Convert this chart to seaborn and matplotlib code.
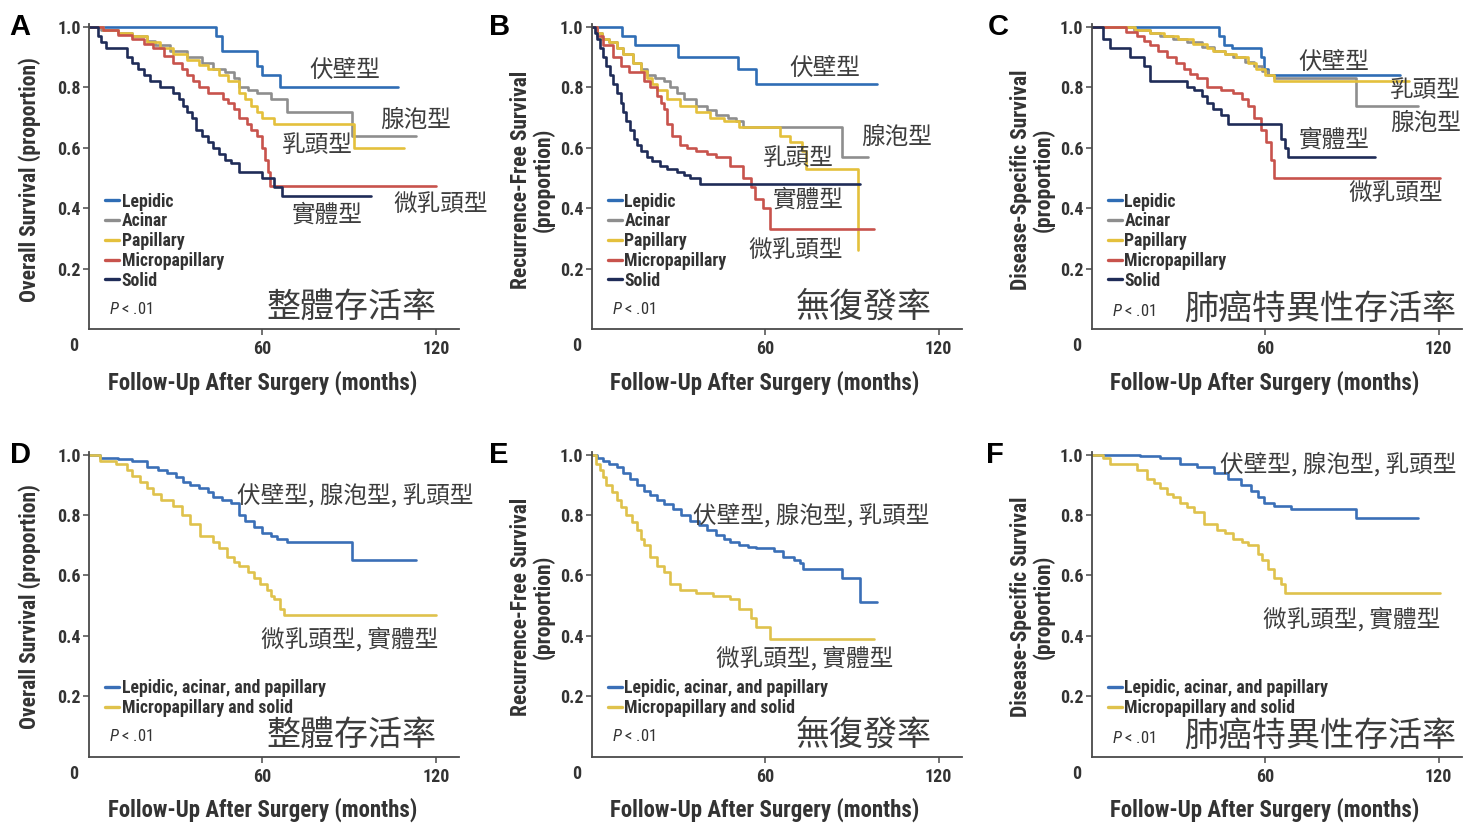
import matplotlib
matplotlib.use("Agg")
import matplotlib.pyplot as plt
import seaborn as sns
import pandas as pd
from matplotlib import font_manager as fm
from matplotlib.lines import Line2D

# ---------------- data (Kaplan-Meier step points: time in months, survival proportion) -------------
top_groups = ["Lepidic", "Acinar", "Papillary", "Micropapillary", "Solid"]
bottom_groups = ["Lepidic, acinar, and papillary", "Micropapillary and solid"]

# Panel A - Overall survival
A_lep_t = [0, 44, 46, 58, 60, 66, 107]
A_lep_s = [1.0, 0.97, 0.92, 0.87, 0.84, 0.80, 0.80]
A_aci_t = [0, 4, 10, 15, 20, 23, 28, 34, 39, 43, 47, 50, 52, 55, 58, 63, 68.5, 91, 113]
A_aci_s = [1.0, 0.99, 0.98, 0.97, 0.955, 0.94, 0.92, 0.90, 0.88, 0.86, 0.85, 0.83, 0.80, 0.79, 0.78, 0.76, 0.72, 0.64, 0.64]
A_pap_t = [0, 5, 10, 15, 20, 24.5, 29, 34, 38, 41, 45, 48, 52, 54, 56, 58, 60, 64, 91.7, 109]
A_pap_s = [1.0, 0.99, 0.98, 0.97, 0.95, 0.93, 0.91, 0.89, 0.875, 0.86, 0.84, 0.82, 0.78, 0.76, 0.74, 0.72, 0.70, 0.68, 0.60, 0.60]
A_mic_t = [0, 5, 10, 15, 19, 22, 26, 29, 32, 34, 36, 38, 41, 46.5, 48, 50, 52, 54.6, 56, 58, 60, 61, 62, 62.7, 120]
A_mic_s = [1.0, 0.99, 0.975, 0.96, 0.945, 0.93, 0.905, 0.88, 0.86, 0.84, 0.82, 0.80, 0.78, 0.76, 0.75, 0.73, 0.70, 0.68, 0.66, 0.64, 0.60, 0.56, 0.52, 0.475, 0.475]
A_sol_t = [0, 3, 4, 6, 12, 13, 15, 17, 19, 21, 24.5, 29, 31, 32.6, 34, 35.5, 37, 39, 41, 43, 45, 47, 49, 52, 57, 60, 64, 66.8, 97.5]
A_sol_s = [1.0, 0.97, 0.95, 0.93, 0.93, 0.90, 0.88, 0.86, 0.84, 0.82, 0.80, 0.78, 0.76, 0.74, 0.72, 0.70, 0.66, 0.64, 0.62, 0.60, 0.58, 0.56, 0.55, 0.52, 0.52, 0.50, 0.47, 0.44, 0.44]

# Panel B - Recurrence-free survival
B_lep_t = [0, 10.4, 15, 30, 50.7, 57, 98.6]
B_lep_s = [1.0, 0.97, 0.94, 0.90, 0.86, 0.81, 0.81]
B_aci_t = [0, 2, 3.5, 6, 8.7, 11, 14.4, 17, 19, 22, 25, 27, 29.4, 32, 36, 40, 43, 47, 50, 52.5, 86.5, 95.7]
B_aci_s = [1.0, 0.98, 0.96, 0.95, 0.93, 0.91, 0.88, 0.86, 0.84, 0.83, 0.82, 0.80, 0.78, 0.76, 0.74, 0.725, 0.71, 0.70, 0.69, 0.67, 0.57, 0.57]
B_pap_t = [0, 2, 3.5, 6, 8.7, 11, 14.4, 17, 19, 21, 22.5, 26, 30.6, 36, 41, 45.6, 51, 65, 68.6, 72.7, 74, 92]
B_pap_s = [1.0, 0.98, 0.96, 0.95, 0.93, 0.91, 0.88, 0.855, 0.83, 0.81, 0.79, 0.76, 0.74, 0.72, 0.70, 0.69, 0.67, 0.64, 0.62, 0.59, 0.53, 0.26]
B_mic_t = [0, 2, 4, 7.5, 10, 13, 18, 20, 22.5, 24, 25, 26, 27.7, 30.6, 33, 36, 40, 43, 48, 52.5, 55, 56.5, 59.4, 61.7, 97.5]
B_mic_s = [1.0, 0.97, 0.94, 0.90, 0.87, 0.85, 0.82, 0.80, 0.77, 0.75, 0.73, 0.68, 0.64, 0.61, 0.60, 0.59, 0.58, 0.57, 0.54, 0.50, 0.47, 0.43, 0.40, 0.33, 0.33]
B_sol_t = [0, 1, 1.7, 3, 4, 5, 6.3, 7.5, 8.7, 10, 11, 12, 13.3, 14.5, 15.6, 17, 19, 21, 23.6, 26, 29.4, 32, 34, 37.5, 92.8]
B_sol_s = [1.0, 0.98, 0.96, 0.93, 0.90, 0.87, 0.84, 0.81, 0.78, 0.75, 0.72, 0.69, 0.66, 0.63, 0.61, 0.59, 0.57, 0.555, 0.54, 0.53, 0.52, 0.51, 0.50, 0.48, 0.48]

# Panel C - Disease-specific survival
C_lep_t = [0, 44, 45.8, 48.7, 58.5, 59.7, 61, 106.7]
C_lep_s = [1.0, 0.97, 0.94, 0.93, 0.90, 0.86, 0.84, 0.84]
C_aci_t = [0, 14.5, 20, 23.8, 28, 33, 38, 42.3, 46, 49, 53, 56, 59, 61, 63, 91.6, 113]
C_aci_s = [1.0, 0.99, 0.98, 0.97, 0.96, 0.95, 0.935, 0.92, 0.91, 0.90, 0.885, 0.87, 0.855, 0.84, 0.83, 0.74, 0.74]
C_pap_t = [0, 15, 20, 25, 30, 35, 40, 42, 46, 50, 54, 57, 60, 63, 109.6]
C_pap_s = [1.0, 0.99, 0.98, 0.97, 0.96, 0.945, 0.93, 0.92, 0.91, 0.90, 0.88, 0.86, 0.84, 0.82, 0.82]
C_mic_t = [0, 12, 15.6, 18, 20, 23, 26, 29, 32, 34, 36.5, 40, 44.6, 49, 52, 54, 56, 58.5, 60.3, 62, 63, 120.6]
C_mic_s = [1.0, 0.985, 0.97, 0.955, 0.94, 0.92, 0.90, 0.88, 0.86, 0.845, 0.83, 0.80, 0.79, 0.78, 0.76, 0.74, 0.70, 0.66, 0.62, 0.56, 0.50, 0.50]
C_sol_t = [0, 4, 6.4, 11, 13.3, 18, 20, 30.7, 33, 35.4, 38, 40, 42, 44.6, 47, 64.3, 65.5, 67, 67.8, 98]
C_sol_s = [1.0, 0.96, 0.93, 0.93, 0.90, 0.87, 0.82, 0.82, 0.80, 0.79, 0.77, 0.75, 0.73, 0.71, 0.68, 0.68, 0.63, 0.60, 0.57, 0.57]

# Panel D - Overall survival, grouped
D_hi_t = [0, 3.7, 10, 15, 20, 24, 27, 30, 32.6, 35, 38, 41, 43, 46, 49, 52, 54, 57, 60, 63, 65, 68.5, 91, 113]
D_hi_s = [1.0, 0.99, 0.985, 0.98, 0.96, 0.95, 0.94, 0.925, 0.91, 0.90, 0.89, 0.875, 0.86, 0.85, 0.84, 0.80, 0.78, 0.76, 0.74, 0.73, 0.72, 0.71, 0.65, 0.65]
D_lo_t = [0, 3.7, 9.5, 13, 15, 17.6, 20, 22, 25, 29, 32, 35, 38.4, 43, 45, 47.7, 50, 52, 55, 57, 59, 61.6, 63, 64, 66, 67.4, 120]
D_lo_s = [1.0, 0.98, 0.97, 0.95, 0.93, 0.91, 0.89, 0.87, 0.85, 0.83, 0.80, 0.77, 0.73, 0.71, 0.69, 0.66, 0.645, 0.63, 0.61, 0.59, 0.57, 0.55, 0.53, 0.52, 0.49, 0.47, 0.47]

# Panel E - Recurrence-free survival, grouped
E_hi_t = [0, 2, 4, 6, 8.7, 11, 13.3, 15.6, 18, 20, 22.5, 25, 28, 31, 34, 37, 40, 43, 45.6, 48, 51, 54, 57, 63, 66.3, 70, 72, 73, 86.5, 92.8, 98.6]
E_hi_s = [1.0, 0.99, 0.98, 0.97, 0.96, 0.94, 0.92, 0.90, 0.88, 0.865, 0.85, 0.835, 0.82, 0.80, 0.78, 0.765, 0.75, 0.735, 0.72, 0.71, 0.70, 0.695, 0.69, 0.68, 0.66, 0.65, 0.64, 0.62, 0.59, 0.51, 0.51]
E_lo_t = [0, 1.5, 3, 4, 5, 7, 8.7, 10, 12, 14, 15.6, 17, 18, 20, 22.5, 25, 27, 30.6, 36, 42, 48, 51, 55, 57, 61.7, 97.5]
E_lo_s = [1.0, 0.97, 0.95, 0.925, 0.90, 0.875, 0.85, 0.825, 0.80, 0.775, 0.75, 0.72, 0.70, 0.66, 0.63, 0.61, 0.57, 0.55, 0.54, 0.53, 0.52, 0.49, 0.46, 0.43, 0.39, 0.39]

# Panel F - Disease-specific survival, grouped
F_hi_t = [0, 16.8, 23.8, 30.7, 36.5, 42.3, 47, 51.6, 55, 57.4, 59.7, 63, 69, 91.6, 113]
F_hi_s = [1.0, 0.995, 0.99, 0.97, 0.96, 0.94, 0.92, 0.90, 0.88, 0.86, 0.84, 0.83, 0.82, 0.79, 0.79]
F_lo_t = [0, 4, 6.4, 12, 15.6, 19, 21.5, 23.8, 26, 28, 30.7, 33, 35.4, 39, 43.5, 46, 49, 52, 54, 57.4, 59, 61, 63, 65.5, 67, 120.6]
F_lo_s = [1.0, 0.99, 0.97, 0.97, 0.95, 0.92, 0.905, 0.89, 0.87, 0.86, 0.84, 0.825, 0.81, 0.77, 0.75, 0.74, 0.72, 0.71, 0.70, 0.67, 0.65, 0.62, 0.59, 0.57, 0.54, 0.54]

y_ticks = [0.2, 0.4, 0.6, 0.8, 1.0]
y_tick_labels = ["0.2", "0.4", "0.6", "0.8", "1.0"]
x_ticks = [60, 120]
x_tick_labels = ["60", "120"]
x_title = "Follow-Up After Surgery (months)"
y_titles = ["Overall Survival (proportion)",
            "Recurrence-Free Survival\n(proportion)",
            "Disease-Specific Survival\n(proportion)"]
panel_titles = ["整體存活率", "無復發率", "肺癌特異性存活率"]
p_text = r"$P$ < .01"

# ---------------- style ----------------
sns.set_style("ticks")

# look for a narrow / condensed latin face; fall back to Liberation Sans
pref = ["Liberation Sans Narrow", "Roboto Condensed", "Open Sans Condensed", "Noto Sans Condensed",
        "DejaVu Sans Condensed", "Noto Sans", "Open Sans", "Roboto", "DejaVu Sans"]
cond = {}
for f in fm.fontManager.ttflist:
    st = str(f.stretch)
    if "Narrow" in f.name or "Condensed" in f.name or "condensed" in st:
        cond.setdefault(f.name, st if "condensed" in st else "normal")
LAT, STRETCH, SC = None, "normal", 1.0
for n in pref:
    if n in cond:
        LAT, STRETCH = n, cond[n]
        break
if LAT is None:
    LAT, STRETCH, SC = "Liberation Sans", "normal", 0.86

CJK = "Noto Sans CJK TC"
plt.rcParams["font.family"] = [LAT, CJK]
plt.rcParams["font.stretch"] = STRETCH
plt.rcParams["mathtext.fontset"] = "custom"
plt.rcParams["mathtext.it"] = LAT + ":italic"
plt.rcParams["mathtext.rm"] = LAT

top_colors = ["#2f6db5", "#8e8e8e", "#e4c03c", "#c8534c", "#1f2c58"]
bottom_colors = ["#3a6fb7", "#dfc24c"]
TXT = "#3d3d3d"
AX = "#4a4a4a"
LBL = "#333333"

W, H = 1478, 827
fig = plt.figure(figsize=(W / 100, H / 100), dpi=100)
fig.patch.set_facecolor("white")


def px_axes(x0, y_bottom, w=370, h=305):
    return fig.add_axes([x0 / W, 1 - y_bottom / H, w / W, h / H])


def km_frame(groups, series):
    rows = []
    for g, (t, s) in zip(groups, series):
        for ti, si in zip(t, s):
            rows.append({"time": ti, "surv": si, "group": g})
    return pd.DataFrame(rows)


panels = [
    dict(letter="A", x0=89, yb=329, groups=top_groups, colors=top_colors, ytitle=y_titles[0],
         title=panel_titles[0], title_xy=(90.7, 0.072),
         series=[(A_lep_t, A_lep_s), (A_aci_t, A_aci_s), (A_pap_t, A_pap_s), (A_mic_t, A_mic_s), (A_sol_t, A_sol_s)],
         labels=[("伏壁型", 88.4, 0.856), ("腺泡型", 113, 0.69), ("乳頭型", 79, 0.608),
                 ("微乳頭型", 121.5, 0.412), ("實體型", 82.4, 0.376)],
         leg_y=0.452, letter_xy=(9, 35)),
    dict(letter="B", x0=591.7, yb=329, groups=top_groups, colors=top_colors, ytitle=y_titles[1],
         title=panel_titles[1], title_xy=(94, 0.072),
         series=[(B_lep_t, B_lep_s), (B_aci_t, B_aci_s), (B_pap_t, B_pap_s), (B_mic_t, B_mic_s), (B_sol_t, B_sol_s)],
         labels=[("伏壁型", 80.7, 0.862), ("腺泡型", 105.5, 0.635), ("乳頭型", 71.5, 0.564),
                 ("實體型", 75, 0.425), ("微乳頭型", 70.4, 0.26)],
         leg_y=0.452, letter_xy=(489, 35)),
    dict(letter="C", x0=1091.7, yb=329, groups=top_groups, colors=top_colors, ytitle=y_titles[2],
         title=panel_titles[2], title_xy=(79.2, 0.066),
         series=[(C_lep_t, C_lep_s), (C_aci_t, C_aci_s), (C_pap_t, C_pap_s), (C_mic_t, C_mic_s), (C_sol_t, C_sol_s)],
         labels=[("伏壁型", 83.8, 0.884), ("乳頭型", 115.4, 0.79), ("腺泡型", 115.4, 0.68),
                 ("實體型", 83.8, 0.624), ("微乳頭型", 105, 0.448)],
         leg_y=0.452, letter_xy=(988, 35)),
    dict(letter="D", x0=89, yb=756.5, groups=bottom_groups, colors=bottom_colors, ytitle=y_titles[0],
         title=panel_titles[0], title_xy=(90.7, 0.072),
         series=[(D_hi_t, D_hi_s), (D_lo_t, D_lo_s)],
         labels=[("伏壁型, 腺泡型, 乳頭型", 92, 0.864), ("微乳頭型, 實體型", 90.3, 0.387)],
         leg_y=0.256, letter_xy=(10, 463)),
    dict(letter="E", x0=591.7, yb=756.5, groups=bottom_groups, colors=bottom_colors, ytitle=y_titles[1],
         title=panel_titles[1], title_xy=(94, 0.072),
         series=[(E_hi_t, E_hi_s), (E_lo_t, E_lo_s)],
         labels=[("伏壁型, 腺泡型, 乳頭型", 76.1, 0.80), ("微乳頭型, 實體型", 73.8, 0.326)],
         leg_y=0.256, letter_xy=(489, 463)),
    dict(letter="F", x0=1091.7, yb=756.5, groups=bottom_groups, colors=bottom_colors, ytitle=y_titles[2],
         title=panel_titles[2], title_xy=(79.2, 0.066),
         series=[(F_hi_t, F_hi_s), (F_lo_t, F_lo_s)],
         labels=[("伏壁型, 腺泡型, 乳頭型", 85.4, 0.967), ("微乳頭型, 實體型", 90, 0.455)],
         leg_y=0.256, letter_xy=(986, 463)),
]

for p in panels:
    ax = px_axes(p["x0"], p["yb"])
    df = km_frame(p["groups"], p["series"])
    sns.lineplot(data=df, x="time", y="surv", hue="group", hue_order=p["groups"],
                 palette=p["colors"], drawstyle="steps-post", estimator=None, sort=False,
                 legend=False, lw=1.9, ax=ax)
    ax.set_xlim(0, 128)
    ax.set_ylim(0, 1.01)
    for side in ("top", "right"):
        ax.spines[side].set_visible(False)
    for side in ("left", "bottom"):
        ax.spines[side].set_color(AX)
        ax.spines[side].set_linewidth(1.3)
    ax.set_yticks(y_ticks)
    ax.set_yticklabels(y_tick_labels)
    ax.set_xticks(x_ticks)
    ax.set_xticklabels(x_tick_labels)
    ax.tick_params(axis="both", direction="out", length=4, width=1.1, color=AX,
                   labelsize=13 * SC, labelcolor=LBL)
    ax.tick_params(axis="y", pad=2)
    ax.tick_params(axis="x", pad=4)
    for lab in ax.get_xticklabels() + ax.get_yticklabels():
        lab.set_fontweight("bold")
    ax.annotate("0", xy=(0, 0), xycoords="data", xytext=(-11, -12.5), textcoords="offset points",
                ha="center", va="center", fontsize=13 * SC, fontweight="bold", color=LBL)
    ax.set_xlabel(x_title, fontsize=16.5 * SC, fontweight="bold", color=LBL)
    ax.xaxis.label.set_va("center")
    ax.xaxis.set_label_coords(0.468, -0.176)
    ax.set_ylabel(p["ytitle"], fontsize=15.5 * SC, fontweight="bold", color=LBL, linespacing=1.0)
    ax.yaxis.label.set_va("center")
    ax.yaxis.set_label_coords(-0.16, 0.49)

    handles = [Line2D([0], [0], color=c, lw=2.4) for c in p["colors"]]
    leg = ax.legend(handles, p["groups"], loc="upper left", bbox_to_anchor=(5.5, p["leg_y"]),
                    bbox_transform=ax.transData, frameon=False, borderpad=0, borderaxespad=0,
                    handlelength=0.8, handletextpad=0.15, labelspacing=0.1,
                    prop={"family": LAT, "weight": "bold", "size": 12.8 * SC, "stretch": STRETCH})
    for t in leg.get_texts():
        t.set_color(LBL)

    ax.text(7, p["title_xy"][1] - 0.005, p_text, fontsize=12 * SC, color=LBL, ha="left", va="center")
    ax.text(p["title_xy"][0], p["title_xy"][1], p["title"], fontsize=24.5, color=TXT,
            family=[CJK, LAT], ha="center", va="center")
    for txt, lx, ly in p["labels"]:
        ax.text(lx, ly, txt, fontsize=17, color=TXT, family=[CJK, LAT], ha="center", va="center")

    fig.text(p["letter_xy"][0] / W, 1 - p["letter_xy"][1] / H, p["letter"], fontsize=21,
             fontweight="bold", family="Liberation Sans", color="black", ha="left", va="baseline")

fig.savefig("out.png", dpi=100, facecolor="white")
